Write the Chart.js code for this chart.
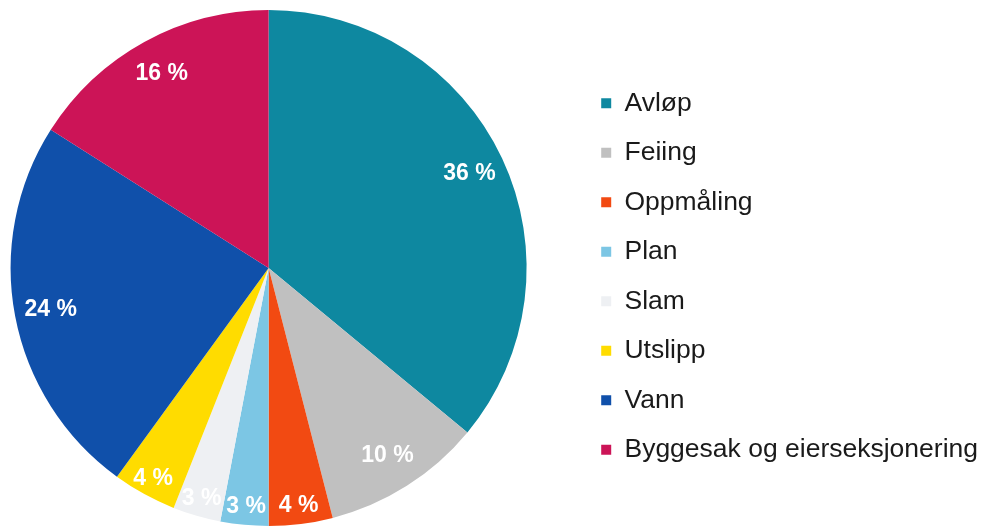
<!DOCTYPE html>
<html>
<head>
<meta charset="utf-8">
<script src="https://cdn.jsdelivr.net/npm/chart.js@4.4.0/dist/chart.umd.min.js"></script>
<style>
  html, body { margin: 0; padding: 0; background: #fff; overflow: hidden; }
  /* canvas a bit wider than the window so the pie sits further left */
  #wrap { width: 1031px; height: 528px; position: absolute; left: -41px; top: 0; }
</style>
</head>
<body>
<div id="wrap"><canvas id="pieChart"></canvas></div>
<script>
// Data (percent shares, clockwise from 12 o'clock)
const categories = ['Avløp', 'Feiing', 'Oppmåling', 'Plan', 'Slam', 'Utslipp', 'Vann', 'Byggesak og eierseksjonering'];
const shares = [36, 10, 4, 3, 3, 4, 24, 16];
const sliceColors = ['#0e88a0', '#c0c0c0', '#f24a12', '#7cc6e4', '#eef0f3', '#ffdc00', '#1050aa', '#cc1457'];

// Writes "36 %" etc. on top of each slice
const sliceLabels = {
  id: 'sliceLabels',
  afterDatasetsDraw(chart) {
    const ctx = chart.ctx;
    const meta = chart.getDatasetMeta(0);
    ctx.save();
    ctx.font = 'bold 23px "Liberation Sans", Arial, sans-serif';
    ctx.fillStyle = '#ffffff';
    ctx.textAlign = 'center';
    ctx.textBaseline = 'middle';
    meta.data.forEach((arc, i) => {
      const v = shares[i];
      const p = arc.getProps(['x', 'y', 'startAngle', 'endAngle', 'outerRadius'], true);
      const mid = (p.startAngle + p.endAngle) / 2;
      const r = p.outerRadius * (v < 5 ? 0.93 : 0.86);
      ctx.fillText(v + ' %', p.x + Math.cos(mid) * r, p.y + Math.sin(mid) * r);
    });
    ctx.restore();
  }
};

new Chart(document.getElementById('pieChart'), {
  type: 'pie',
  data: {
    labels: categories,
    datasets: [{
      data: shares,
      backgroundColor: sliceColors,
      borderWidth: 0
    }]
  },
  options: {
    responsive: true,
    maintainAspectRatio: false,
    animation: false,
    layout: { padding: { top: 10, bottom: 2, left: 0, right: 2 } },
    plugins: {
      tooltip: { enabled: false },
      legend: {
        position: 'right',
        align: 'center',
        title: { display: true, text: '', font: { size: 1 }, padding: { top: 8, bottom: 8 } },
        labels: {
          boxWidth: 10,
          boxHeight: 10,
          padding: 23,
          color: '#1a1a1a',
          font: { size: 26.5, family: '"Liberation Sans", Arial, sans-serif' }
        }
      }
    }
  },
  plugins: [sliceLabels]
});
</script>
</body>
</html>
